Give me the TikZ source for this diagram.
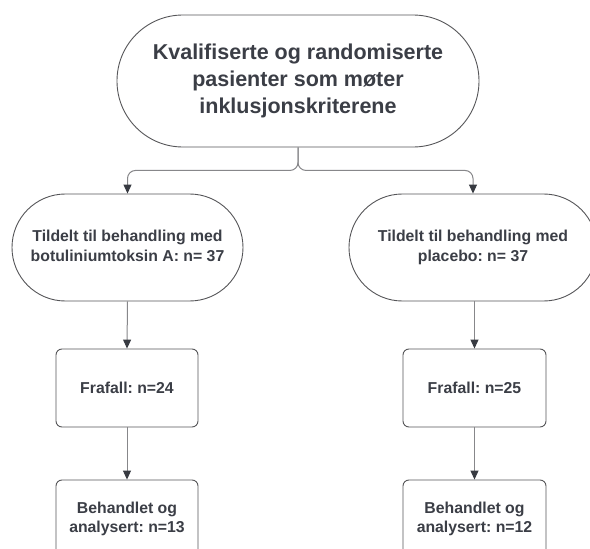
\documentclass[tikz,border=0pt]{standalone}
\usepackage{fontspec}
\setmainfont{Liberation Sans}
\usetikzlibrary{arrows.meta}
\definecolor{txtc}{RGB}{59,62,70}
\definecolor{edgec}{RGB}{85,85,88}
\definecolor{linec}{RGB}{135,135,138}
\definecolor{tipc}{RGB}{55,58,65}
\frenchspacing
\tikzset{
  base/.style={draw=edgec, line width=0.9pt, fill=white, inner sep=0pt, align=center, text=txtc, font=\frenchspacing\bfseries\fontsize{15.8}{19.5}\selectfont},
  topbox/.style={base, minimum width=362pt, minimum height=132pt, rounded corners=65.9pt, font=\frenchspacing\bfseries\fontsize{21.5}{27}\selectfont},
  pill/.style={base, minimum height=107pt, rounded corners=53.4pt},
  card/.style={base, minimum width=142pt, minimum height=78pt, rounded corners=6pt},
  conn/.style={draw=linec, line width=1pt, -{Triangle[length=9pt,width=8pt,color=tipc]}},
}
\begin{document}
\begin{tikzpicture}[x=1pt,y=-1pt]
\path[use as bounding box, clip] (0,0) rectangle (590,549);
\fill[white] (0,0) rectangle (590,549);
\node[topbox] (top) at (298,81) {Kvalifiserte og randomiserte\\pasienter som møter\\inklusjonskriterene};
\node[pill, minimum width=231pt] (L) at (127.5,247.5) {\raisebox{3pt}{\begin{tabular}{@{}c@{}}Tildelt til behandling med\\botuliniumtoksin A: n= 37\end{tabular}}};
\node[pill, minimum width=248pt] (R) at (473,247.5) {\raisebox{3pt}{\begin{tabular}{@{}c@{}}Tildelt til behandling med\\placebo: n= 37\end{tabular}}};
\node[card] (L1) at (127,388) {Frafall: n=24};
\node[card, minimum width=143pt] (R1) at (474.5,388) {Frafall: n=25};
\node[card] (L2) at (127,519) {Behandlet og\\analysert: n=13};
\node[card, minimum width=143pt] (R2) at (474.5,519) {Behandlet og\\analysert: n=12};
\draw[conn, rounded corners=8pt] (top.south) -- ++(0,23) -| (L.north);
\draw[conn, rounded corners=8pt] (top.south) -- ++(0,23) -| (R.north);
\draw[conn] (L.south) -- (L1.north);
\draw[conn] (R.south -| R1.north) -- (R1.north);
\draw[conn] (L1) -- (L2);
\draw[conn] (R1) -- (R2);
\end{tikzpicture}
\end{document}
